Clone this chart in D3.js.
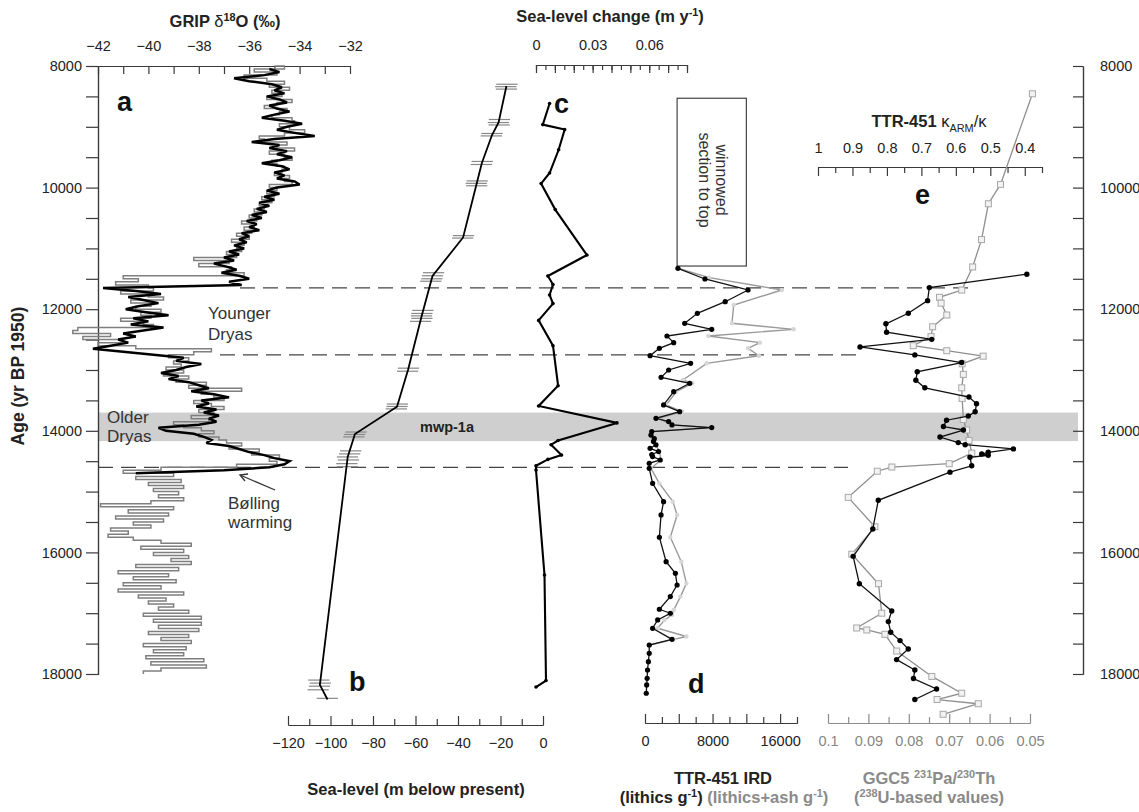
<!DOCTYPE html>
<html><head><meta charset="utf-8">
<script src="https://cdn.jsdelivr.net/npm/d3@7"></script>
<style>body{margin:0;background:#fff}</style>
</head><body><svg id="c" width="1139" height="812"></svg>
<script>
// ---------------- DATA ----------------
// Panel a: GRIP d18O (per mil), evenly spaced ages
const gripGrayStartAge = 8000, gripStep = 50;
const gripGray = [
-35.0,-34.6,-35.8,-34.9,-36.2,-35.3,-34.6,-35.2,-34.4,-35.1,
-34.7,-35.3,-34.3,-34.9,-35.4,-34.5,-34.8,-35.1,-34.3,-34.2,
-34.8,-34.4,-33.8,-34.6,-35.6,-35.4,-34.5,-34.9,-34.2,-35.2,
-34.6,-34.3,-35.1,-34.9,-34.6,-34.7,-35.0,-34.4,-34.6,-34.3,
-35.2,-34.9,-35.3,-35.0,-35.5,-35.1,-35.6,-35.4,-35.8,-35.5,
-36.0,-35.7,-36.3,-35.8,-36.2,-35.9,-36.5,-36.0,-36.7,-36.2,
-36.5,-36.3,-36.9,-36.5,-38.2,-36.8,-38.0,-36.7,-36.9,-36.2,
-41.0,-40.4,-41.3,-40.0,-39.8,-41.1,-40.0,-39.4,-40.7,-39.9,
-40.5,-39.5,-40.3,-39.9,-41.1,-40.2,-39.8,-42.8,-43.0,-41.5,
-42.6,-41.0,-42.0,-40.5,-37.5,-38.2,-39.2,-38.4,-39.0,-38.7,
-39.3,-38.6,-39.4,-38.4,-38.9,-37.7,-38.4,-36.3,-37.9,-37.4,
-37.0,-38.2,-37.5,-37.0,-38.0,-37.4,-38.3,-37.6,-39.0,-38.6,
-37.9,-37.4,-38.0,-37.2,-36.9,-36.3,-36.8,-35.6,-35.9,-34.8,
-35.2,-34.9,-36.5,-39.5,-41.0,-39.0,-40.5,-38.7,-40.0,-38.6,
-39.8,-38.8,-39.6,-38.6,-39.9,-41.9,-39.0,-40.8,-39.2,-41.3,
-39.4,-40.6,-39.9,-41.5,-40.8,-41.6,-40.6,-39.5,-38.3,-40.3,
-38.6,-39.8,-38.4,-39.1,-38.3,-40.5,-38.8,-41.2,-39.2,-40.6,
-38.9,-41.0,-39.5,-41.2,-38.6,-40.4,-39.3,-40.0,-39.0,-39.6,
-38.4,-40.2,-37.9,-39.8,-37.9,-39.6,-38.0,-40.0,-38.4,-39.5,
-38.3,-40.2,-38.5,-39.8,-38.6,-40.1,-37.8,-39.9,-37.7,-39.5,
-40.2];
const gripBlackStartAge = 8050;
const gripBlack = [
-35.2,-34.8,-35.4,-36.6,-36.0,-35.1,-34.7,-35.0,-34.6,-35.3,
-34.8,-34.5,-35.2,-34.9,-34.4,-35.0,-35.5,-34.6,-33.9,-34.5,
-34.9,-34.2,-33.4,-35.0,-35.9,-34.8,-35.2,-34.5,-34.9,-34.3,
-34.8,-35.5,-34.7,-34.4,-35.0,-34.6,-34.9,-34.2,-34.0,-34.9,
-35.3,-34.8,-35.4,-35.0,-35.6,-35.2,-35.7,-35.3,-35.9,-35.5,
-36.1,-35.7,-36.0,-35.6,-36.3,-36.0,-36.4,-36.1,-36.6,-36.2,
-36.8,-36.4,-37.0,-36.6,-37.4,-36.9,-36.5,-37.1,-36.4,-36.0,
-36.8,-36.3,-41.8,-40.5,-39.5,-40.8,-40.2,-39.6,-40.4,-40.9,
-40.1,-39.2,-40.6,-40.0,-40.7,-39.4,-40.2,-41.0,-40.5,-41.2,
-40.8,-41.5,-42.2,-41.0,-39.8,-38.6,-38.9,-37.9,-38.5,-38.9,
-39.5,-38.8,-39.2,-38.4,-38.0,-37.6,-38.3,-37.4,-36.8,-37.9,
-37.6,-38.1,-37.3,-37.8,-37.2,-37.6,-37.3,-38.0,-39.6,-39.3,
-38.2,-37.8,-37.5,-37.7,-36.8,-36.4,-36.0,-35.4,-35.0,-34.4,
-34.6,-35.2,-37.0,-40.5];

// Panel b: sea level (m below present)
const slSampleAge = [8300,8340,8380,8880,8930,8970,9110,9150,9570,9620,9890,9930,9970,10790,10830,
  11400,11450,11500,11540,12020,12070,12110,12150,12200,12970,13020,13560,13600,13640,
  14020,14060,14100,14330,14380,14430,14480,14540,14590,18100,18150,18200,18260,18400];
const slSampleVal = [-17.0,-17.5,-17.2,-20.5,-21.0,-20.6,-24.0,-24.3,-28.6,-29.0,-31.0,-31.4,-31.2,-37.4,-37.8,
  -51.5,-52.0,-52.3,-52.8,-56.5,-57.0,-57.2,-57.0,-57.6,-63.3,-63.7,-68.5,-68.7,-69.0,
  -88.0,-88.6,-89.0,-90.5,-91.0,-92.0,-91.6,-92.3,-92.0,-105.5,-104.8,-105.2,-105.8,-101.5];
const slCurveAge = [8330,8930,9135,9600,9933,10820,11454,12112,12995,13605,14053,14430,18180,18420];
const slCurveVal = [-17.2,-20.9,-24.0,-28.8,-31.2,-37.6,-52.0,-57.1,-63.5,-68.7,-88.5,-91.9,-105.0,-101.4];

// Panel c: sea-level change rate (m/yr)
const rateAge = [8617,8964,9046,9378,9760,9933,10362,11109,11454,11595,11766,11908,12184,12600,13258,13592,13870,14160,14229,14400,14470,14574,14645,16372,18108,18214];
const rateVal = [0.0072,0.0036,0.0152,0.0120,0.0072,0.0027,0.0102,0.0270,0.0063,0.0090,0.0072,0.0090,0.0014,0.0090,0.0117,0.0014,0.0429,0.0117,0.0080,0.0135,0.0063,0.0,0.0,0.0045,0.0053,0.0];

// Panel d: TTR-451 IRD
const irdAge = [11327,11503,11684,11877,12068,12232,12331,12441,12550,12643,12765,12890,13000,13120,13219,13357,13575,13685,13795,13849,13904,13947,14013,14070,14130,14178,14230,14288,14342,14390,14424,14480,14534,14617,14864,15165,15384,15751,16152,16344,16536,16727,16935,17001,17111,17248,17430,17523,17660,17798,17934,18071,18180,18317];
const irdVal = [3900,7100,12200,9500,6200,4700,7900,2600,3400,1700,600,5400,2800,1900,5300,3400,2200,4100,1300,2800,3200,7900,800,700,1100,1000,1300,600,1600,800,900,1800,500,500,900,2200,1900,1700,2500,3600,3800,3000,1700,3000,1500,900,3200,500,500,400,300,250,200,150];
const irdAshAge = [11327,11480,11684,11931,12232,12331,12441,12550,12643,12765,12890,13164,13219,13357,13575,13685,13795,13904,13947,14013,14178,14342,14480,14617,14864,15165,15384,15751,16152,16510,16727,16946,17029,17111,17248,17384,17430,17523];
const irdAshVal = [3900,7600,16200,10500,10300,17600,7500,13600,12200,13500,7300,4500,5600,3700,2500,4400,1600,3300,7600,900,1100,1700,1900,700,1700,3300,3800,3000,4300,4900,4200,3400,3200,2300,1500,4900,3400,600];
const winnowBox = {ageTop: 8530, ageBottom: 11290, valLeft: 3800, valRight: 12000};

// Panel e: kARM/k (black) and 231Pa/230Th (grey)
const kAge = [11424,11645,11859,12067,12240,12378,12496,12621,12752,12877,13029,13168,13293,13445,13556,13687,13757,13826,13930,13987,14103,14194,14229,14298,14354,14382,14402,14436,14575,14680,15143,15615,16065,16515,16965,17138,17313,17451,17590,17763,17935,18074,18247,18420];
const kVal = [0.394,0.677,0.682,0.738,0.803,0.801,0.670,0.878,0.719,0.583,0.712,0.716,0.690,0.562,0.540,0.544,0.564,0.627,0.636,0.578,0.646,0.593,0.573,0.433,0.506,0.525,0.506,0.559,0.554,0.617,0.825,0.841,0.898,0.880,0.786,0.796,0.789,0.762,0.738,0.772,0.719,0.723,0.656,0.719];
const paAge = [8457,9947,10266,10855,11305,11685,11804,11900,12095,12289,12450,12600,12683,12773,12898,13072,13293,13467,13812,13987,14160,14367,14541,14596,14665,15095,15579,16030,16515,17000,17243,17276,17347,17622,18040,18316,18420,18489,18663];
const paVal = [0.0494,0.0573,0.0603,0.0620,0.0642,0.0669,0.0724,0.0720,0.0706,0.0741,0.0745,0.0789,0.0706,0.0616,0.0668,0.0665,0.0669,0.0668,0.0665,0.0657,0.0651,0.0644,0.0700,0.0842,0.0878,0.0950,0.0884,0.0941,0.0875,0.0867,0.0929,0.0904,0.0859,0.0830,0.0743,0.0669,0.0730,0.0628,0.0715];

// Event markers (ages)
const dashedAges = [11650, 12750, 14600];
const mwpBand = [13700, 14170];

// Tick labels
const ageTicks = [8000,10000,12000,14000,16000,18000];
const ageMinor = [8500,9000,9500,10500,11000,11500,12500,13000,13500,14500,15000,15500,16500,17000,17500];
const gripTicks = [-42,-40,-38,-36,-34,-32];
const gripMinor = [-41,-39,-37,-35,-33];
const rateTicks = [0,0.03,0.06];
const rateAll = [0,0.005,0.01,0.015,0.02,0.025,0.03,0.035,0.04,0.045,0.05,0.055,0.06,0.065,0.07,0.075,0.08];
const slTicks = [-120,-100,-80,-60,-40,-20,0];
const slMinor = [-110,-90,-70,-50,-30,-10];
const irdTicks = [0,8000,16000];
const irdAll = [0,2000,4000,6000,8000,10000,12000,14000,16000,18000];
const kTicks = [1,0.9,0.8,0.7,0.6,0.5,0.4];
const kMinor = [0.95,0.85,0.75,0.65,0.55,0.45,0.35];
const paTicks = [0.1,0.09,0.08,0.07,0.06,0.05];
const paMinor = [0.095,0.085,0.075,0.065,0.055];

// ---------------- DRAW ----------------
const FONT = '"Liberation Sans", Arial, Helvetica, sans-serif';
const svg = d3.select('#c');
const y = d3.scaleLinear().domain([8000,18000]).range([66,674]);
const xGrip = d3.scaleLinear().domain([-42,-32]).range([98,350]);
const xSL = d3.scaleLinear().domain([-120,0]).range([288,543]);
const xRate = d3.scaleLinear().domain([0,0.08]).range([536,687]);
const xIRD = d3.scaleLinear().domain([0,18000]).range([645,797]);
const xK = d3.scaleLinear().domain([1,0.35]).range([818,1042]);
const xPa = d3.scaleLinear().domain([0.1,0.05]).range([828,1030]);

const AX = '#3a3a3a', TX = '#222', GR = '#8c8c8c';
const TITLE = 16.5;

// band
svg.append('rect').attr('x',98).attr('width',1078-98)
  .attr('y',y(mwpBand[0])).attr('height',y(mwpBand[1])-y(mwpBand[0])).attr('fill','#cfcfcf');

// dashed lines (x extents are layout)
const dashExt = [[240,975],[220,858],[98,848]];
dashedAges.forEach((a,i)=>{
  svg.append('line').attr('x1',dashExt[i][0]).attr('x2',dashExt[i][1]).attr('y1',y(a)).attr('y2',y(a))
    .attr('stroke','#444').attr('stroke-width',1.3).attr('stroke-dasharray','15,8');
});

function styleAxis(g, color){
  g.attr('font-family',FONT).attr('font-size',14.5);
  g.selectAll('.domain').attr('stroke',color).attr('stroke-width',1.2);
  g.selectAll('.tick line').attr('stroke',color).attr('stroke-width',1.2);
  g.selectAll('.tick text').attr('fill',color==GR?'#858585':TX);
  return g;
}
function addAxis(axis, tx, ty, color){
  return styleAxis(svg.append('g').attr('transform',`translate(${tx},${ty})`).call(axis), color||AX);
}
const fmt = d => String(+d.toFixed(3));

// left & right age axes
addAxis(d3.axisLeft(y).tickValues(ageMinor).tickSize(12).tickFormat(()=>''), 98, 0);
addAxis(d3.axisLeft(y).tickValues(ageTicks).tickSize(12).tickPadding(4).tickFormat(d3.format('d')), 98, 0);
addAxis(d3.axisRight(y).tickValues(ageMinor).tickSizeInner(-10).tickSizeOuter(0).tickFormat(()=>''), 1083, 0);
addAxis(d3.axisRight(y).tickValues(ageTicks).tickSizeInner(-10).tickSizeOuter(0).tickPadding(17).tickFormat(d3.format('d')), 1083, 0);

// top GRIP axis
addAxis(d3.axisTop(xGrip).tickValues(gripMinor).tickSizeInner(-8).tickSizeOuter(0).tickFormat(()=>''), 0, 66);
addAxis(d3.axisTop(xGrip).tickValues(gripTicks).tickSizeInner(-8).tickSizeOuter(0).tickPadding(15).tickFormat(d3.format('d')), 0, 66);
// top rate axis
addAxis(d3.axisTop(xRate).tickValues(rateAll).tickSizeInner(-5).tickSizeOuter(0).tickFormat(()=>''), 0, 65);
addAxis(d3.axisTop(xRate).tickValues(rateAll.filter((d,i)=>i%2===0)).tickSizeInner(-8).tickSizeOuter(0).tickFormat(()=>''), 0, 65);
addAxis(d3.axisTop(xRate).tickValues(rateTicks).tickSizeInner(0).tickSizeOuter(0).tickPadding(15).tickFormat(fmt), 0, 65);
// top kappa axis
addAxis(d3.axisTop(xK).tickValues(kMinor).tickSizeInner(-6).tickSizeOuter(0).tickFormat(()=>''), 0, 167);
addAxis(d3.axisTop(xK).tickValues(kTicks).tickSizeInner(-9).tickSizeOuter(0).tickPadding(14).tickFormat(fmt), 0, 167);
// bottom sea-level axis
addAxis(d3.axisBottom(xSL).tickValues(slMinor).tickSizeInner(-6).tickSizeOuter(0).tickFormat(()=>''), 0, 725);
addAxis(d3.axisBottom(xSL).tickValues(slTicks).tickSizeInner(-9).tickSizeOuter(0).tickPadding(13).tickFormat(d3.format('d')), 0, 725);
// bottom IRD axis
addAxis(d3.axisBottom(xIRD).tickValues(irdAll.filter((d,i)=>i%2===1)).tickSizeInner(-6).tickSizeOuter(0).tickFormat(()=>''), 0, 723);
addAxis(d3.axisBottom(xIRD).tickValues(irdAll.filter((d,i)=>i%2===0)).tickSizeInner(-9).tickSizeOuter(0).tickFormat(()=>''), 0, 723);
addAxis(d3.axisBottom(xIRD).tickValues(irdTicks).tickSizeInner(0).tickSizeOuter(0).tickPadding(13).tickFormat(d3.format('d')), 0, 723);
// bottom Pa/Th axis (grey)
addAxis(d3.axisBottom(xPa).tickValues(paMinor).tickSizeInner(-6).tickSizeOuter(0).tickFormat(()=>''), 0, 723, GR);
addAxis(d3.axisBottom(xPa).tickValues(paTicks).tickSizeInner(-9).tickSizeOuter(0).tickPadding(13).tickFormat(fmt), 0, 723, GR);

// ---- panel a
const gGray = gripGray.map((v,i)=>[gripGrayStartAge+i*gripStep, v]);
const gBlack = gripBlack.map((v,i)=>[gripBlackStartAge+i*gripStep, v]);
const lineGray = d3.line().curve(d3.curveStepAfter).x(d=>xGrip(d[1])).y(d=>y(d[0]));
const lineBlack = d3.line().x(d=>xGrip(d[1])).y(d=>y(d[0]));
svg.append('path').attr('d',lineGray(gGray)).attr('fill','none').attr('stroke','#7f7f7f').attr('stroke-width',1.5);
svg.append('path').attr('d',lineBlack(gBlack)).attr('fill','none').attr('stroke','#000').attr('stroke-width',2.5).attr('stroke-linejoin','miter').attr('stroke-miterlimit',3);

// ---- panel b
slSampleAge.forEach((a,i)=>{
  const v = slSampleVal[i];
  svg.append('line').attr('x1',xSL(v-5)).attr('x2',xSL(v+5)).attr('y1',y(a)).attr('y2',y(a))
    .attr('stroke','#888').attr('stroke-width',1.2);
});
const lineB = d3.line().x(d=>xSL(d[1])).y(d=>y(d[0]));
svg.append('path').attr('d',lineB(slCurveAge.map((a,i)=>[a,slCurveVal[i]]))).attr('fill','none').attr('stroke','#000').attr('stroke-width',1.8);

// ---- panel c
const rateData = rateAge.map((a,i)=>[a,rateVal[i]]);
svg.append('path').attr('d',d3.line().x(d=>xRate(d[1])).y(d=>y(d[0]))(rateData)).attr('fill','none').attr('stroke','#000').attr('stroke-width',2.1);
svg.selectAll('.rdot').data(rateData).enter().append('circle').attr('cx',d=>xRate(d[1])).attr('cy',d=>y(d[0])).attr('r',1.8).attr('fill','#000');

// ---- panel d
svg.append('rect').attr('x',xIRD(winnowBox.valLeft)).attr('y',y(winnowBox.ageTop))
  .attr('width',xIRD(winnowBox.valRight)-xIRD(winnowBox.valLeft)).attr('height',y(winnowBox.ageBottom)-y(winnowBox.ageTop))
  .attr('fill','none').attr('stroke','#333').attr('stroke-width',1.1);
[['winnowed',716],['section to top',699]].forEach(([t,x])=>{
  svg.append('text').attr('transform',`translate(${x},180) rotate(90)`).attr('text-anchor','middle')
    .attr('font-family',FONT).attr('font-size',16).attr('fill','#333').text(t);
});
const ashData = irdAshAge.map((a,i)=>[a,irdAshVal[i]]);
const irdData = irdAge.map((a,i)=>[a,irdVal[i]]);
const lineD = d3.line().x(d=>xIRD(d[1])).y(d=>y(d[0]));
svg.append('path').attr('d',lineD(ashData)).attr('fill','none').attr('stroke','#9a9a9a').attr('stroke-width',1.4);
svg.selectAll('.adot').data(ashData).enter().append('circle').attr('cx',d=>xIRD(d[1])).attr('cy',d=>y(d[0])).attr('r',2.2).attr('fill','#d6d6d6');
svg.append('path').attr('d',lineD(irdData)).attr('fill','none').attr('stroke','#111').attr('stroke-width',1.3);
svg.selectAll('.idot').data(irdData).enter().append('circle').attr('cx',d=>xIRD(d[1])).attr('cy',d=>y(d[0])).attr('r',2.6).attr('fill','#000');

// ---- panel e
const paData = paAge.map((a,i)=>[a,paVal[i]]);
const kData = kAge.map((a,i)=>[a,kVal[i]]);
svg.append('path').attr('d',d3.line().x(d=>xPa(d[1])).y(d=>y(d[0]))(paData)).attr('fill','none').attr('stroke','#8f8f8f').attr('stroke-width',1.3);
svg.selectAll('.psq').data(paData).enter().append('rect').attr('x',d=>xPa(d[1])-3).attr('y',d=>y(d[0])-3).attr('width',6).attr('height',6)
  .attr('fill','#f2f2f2').attr('stroke','#a8a8a8').attr('stroke-width',1);
svg.append('path').attr('d',d3.line().x(d=>xK(d[1])).y(d=>y(d[0]))(kData)).attr('fill','none').attr('stroke','#111').attr('stroke-width',1.3);
svg.selectAll('.kdot').data(kData).enter().append('circle').attr('cx',d=>xK(d[1])).attr('cy',d=>y(d[0])).attr('r',2.7).attr('fill','#000');

// ---------------- TEXT ----------------
function rich(x, yy, parts, o){
  o = o||{};
  const size = o.size||TITLE;
  const t = svg.append('text').attr('x',x).attr('y',yy).attr('text-anchor',o.anchor||'middle')
    .attr('font-family',FONT).attr('font-size',size).attr('font-weight',o.weight||'bold').attr('fill',o.fill||TX);
  let shift = 0;
  parts.forEach(p=>{
    if (typeof p === 'string') p = {t:p};
    const s = t.append('tspan').text(p.t);
    const target = p.sup ? -size*0.38 : p.sub ? size*0.3 : 0;
    if (target !== shift){ s.attr('dy', target-shift); shift = target; }
    if (p.sup || p.sub) s.attr('font-size', size*0.66);
    if (p.fill) s.attr('fill', p.fill);
    if (p.weight) s.attr('font-weight', p.weight);
  });
  return t;
}
rich(225, 27, ['GRIP ', {t:'δ',weight:'normal'}, {t:'18',sup:true}, 'O (‰)']);
rich(610, 22, ['Sea-level change (m y', {t:'-1',sup:true}, ')']);
rich(929, 127, ['TTR-451 ', {t:'κ',weight:'normal'}, {t:'ARM',sub:true,weight:'normal'}, {t:'/κ',weight:'normal'}]);
rich(416, 795, ['Sea-level (m below present)']);
rich(723, 784, ['TTR-451  IRD']);
rich(724, 803, ['(lithics g', {t:'-1',sup:true}, ') ', {t:'(lithics+ash g',fill:'#8a8a8a'}, {t:'-1',sup:true,fill:'#8a8a8a'}, {t:')',fill:'#8a8a8a'}]);
rich(929, 784, ['GGC5  ', {t:'231',sup:true}, 'Pa/', {t:'230',sup:true}, 'Th'], {fill:'#8a8a8a'});
rich(929, 803, ['(', {t:'238',sup:true}, 'U-based values)'], {fill:'#8a8a8a'});
svg.append('text').attr('transform','translate(24,376) rotate(-90)').attr('text-anchor','middle')
  .attr('font-family',FONT).attr('font-size',17.5).attr('font-weight','bold').attr('fill',TX).text('Age (yr BP 1950)');

// panel letters
[['a',117,111],['b',349,691],['c',554,113],['d',688,693],['e',915,204]].forEach(([t,x,yy])=>{
  svg.append('text').attr('x',x).attr('y',yy).attr('font-family',FONT).attr('font-size',27).attr('font-weight','bold').attr('fill','#111').text(t);
});
// annotations
function label(t,x,yy,o){ o=o||{};
  svg.append('text').attr('x',x).attr('y',yy).attr('font-family',FONT).attr('font-size',o.size||17)
    .attr('font-weight',o.weight||'normal').attr('text-anchor',o.anchor||'start').attr('fill',o.fill||'#333').text(t);
}
label('Younger',208,319); label('Dryas',208,340);
label('Older',107,423); label('Dryas',107,442);
label('Bølling',228,509); label('warming',228,528);
label('mwp-1a',447,432,{weight:'bold',size:14.5,anchor:'middle',fill:'#222'});
// arrow
svg.append('line').attr('x1',275).attr('y1',490).attr('x2',240).attr('y2',475).attr('stroke','#333').attr('stroke-width',1.3);
svg.append('path').attr('d','M248,474 L240,475 L245,481').attr('fill','none').attr('stroke','#333').attr('stroke-width',1.3);
</script></body></html>
